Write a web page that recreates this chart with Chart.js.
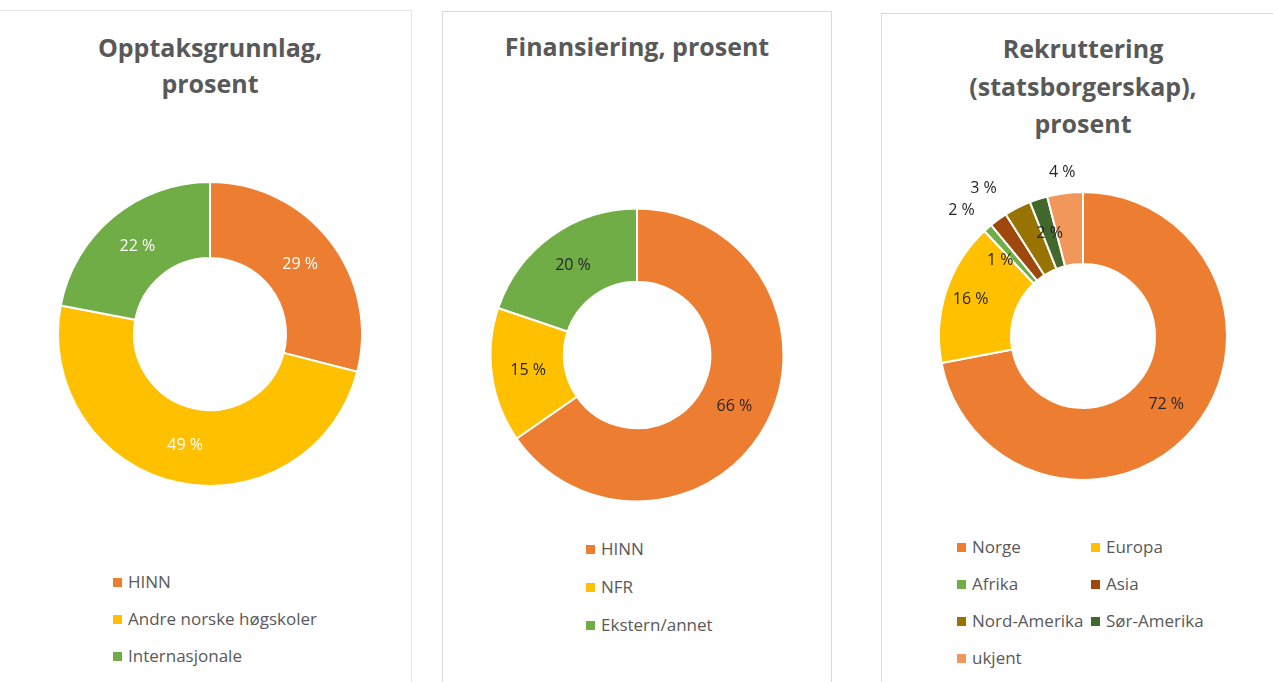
<!DOCTYPE html>
<html lang="no">
<head>
<meta charset="utf-8">
<title>Opptak, finansiering og rekruttering</title>
<script src="https://cdn.jsdelivr.net/npm/chart.js@4/dist/chart.umd.min.js"></script>
<style>
  body { margin: 0; width: 1273px; height: 682px; background: #fff; position: relative; overflow: hidden; font-family: "Open Sans", sans-serif; }
  .ramme { position: absolute; border: 1px solid #d9d9d9; }
  .tittel { position: absolute; text-align: center; font-weight: bold; font-size: 25px; line-height: 36px; color: #595959; }
  canvas { position: absolute; }
  .legende { position: absolute; font-size: 17px; color: #595959; }
  .legende .rad { position: absolute; white-space: nowrap; line-height: 20px; }
  .legende .rute { display: inline-block; width: 9px; height: 9px; margin-right: 6px; vertical-align: 1px; }
</style>
</head>
<body>

<div class="ramme" style="left:-2px; top:10px; width:412px; height:700px; border-color:#e6e6e6"></div>
<div class="ramme" style="left:442px; top:11px; width:388px; height:700px"></div>
<div class="ramme" style="left:881px; top:13px; width:420px; height:700px"></div>

<div class="tittel" style="left:10px; width:400px; top:29px">Opptaksgrunnlag,<br>prosent</div>
<div class="tittel" style="left:443px; width:388px; top:28px">Finansiering, prosent</div>
<div class="tittel" style="left:883px; width:400px; top:30px; line-height:37.5px">Rekruttering<br>(statsborgerskap),<br>prosent</div>

<canvas id="opptak" width="360" height="360" style="left:30px; top:154px"></canvas>
<canvas id="finans" width="340" height="340" style="left:467px; top:185px"></canvas>
<canvas id="rekrutt" width="380" height="380" style="left:893px; top:146px"></canvas>

<div class="legende" id="legOpptak" style="left:113px; top:572px"></div>
<div class="legende" id="legFinans" style="left:586px; top:539px"></div>
<div class="legende" id="legRekrutt" style="left:957px; top:537px"></div>

<script>
const opptakKategorier = ['HINN', 'Andre norske høgskoler', 'Internasjonale']
const opptakVerdier = [29, 49, 22]

const finansKategorier = ['HINN', 'NFR', 'Ekstern/annet']
const finansVerdier = [66, 15, 20]

const rekruttKategorier = ['Norge', 'Europa', 'Afrika', 'Asia', 'Nord-Amerika', 'Sør-Amerika', 'ukjent']
const rekruttVerdier = [72, 16, 1, 2, 3, 2, 4]

const farger = ['#ED7D31', '#FFC000', '#70AD47', '#9E480E', '#997300', '#43682B', '#F1975A']

// prosentetiketter tegnet ut fra buenes egen geometri
const etiketter = {
  id: 'etiketter',
  afterDatasetsDraw(chart, args, opts) {
    const ctx = chart.ctx
    const meta = chart.getDatasetMeta(0)
    const verdier = chart.data.datasets[0].data
    ctx.save()
    ctx.font = '16px "Open Sans"'
    ctx.fillStyle = opts.farge
    ctx.textAlign = 'center'
    ctx.textBaseline = 'middle'
    meta.data.forEach((bue, i) => {
      const p = bue.getProps(['x', 'y', 'startAngle', 'endAngle', 'innerRadius', 'outerRadius'], true)
      const plass = (opts.plassering && opts.plassering[i]) || {}
      const vinkel = (p.startAngle + p.endAngle) / 2 + (plass.dv || 0) * Math.PI / 180
      const r = plass.r ? p.outerRadius * plass.r : (p.innerRadius + p.outerRadius) / 2
      ctx.fillText(verdier[i] + ' %', p.x + Math.cos(vinkel) * r, p.y + Math.sin(vinkel) * r)
    })
    ctx.restore()
  }
}

function lagDonut(id, kategorier, verdier, padding, etikettOpts) {
  return new Chart(document.getElementById(id), {
    type: 'doughnut',
    data: {
      labels: kategorier,
      datasets: [{
        data: verdier,
        backgroundColor: farger.slice(0, verdier.length),
        borderColor: '#ffffff',
        borderWidth: 2
      }]
    },
    options: {
      responsive: false,
      animation: false,
      cutout: '50%',
      layout: { padding: padding },
      plugins: {
        legend: { display: false },
        tooltip: { enabled: false },
        etiketter: etikettOpts
      }
    },
    plugins: [etiketter]
  })
}

function lagLegende(chart, elId, kolonner, radAvstand, kolBredde) {
  const el = document.getElementById(elId)
  const elementer = Chart.overrides.doughnut.plugins.legend.labels.generateLabels(chart)
  elementer.forEach((e, i) => {
    const rad = document.createElement('div')
    rad.className = 'rad'
    rad.style.top = Math.floor(i / kolonner) * radAvstand + 'px'
    rad.style.left = (i % kolonner) * kolBredde + 'px'
    rad.innerHTML = '<span class="rute" style="background:' + e.fillStyle + '"></span>' + e.text
    el.appendChild(rad)
  })
}

const grafOpptak = lagDonut('opptak', opptakKategorier, opptakVerdier, 27, { farge: '#ffffff' })
const grafFinans = lagDonut('finans', finansKategorier, finansVerdier, 22.5, { farge: '#262626' })
const grafRekrutt = lagDonut('rekrutt', rekruttKategorier, rekruttVerdier, 45, {
  farge: '#262626',
  plassering: [null, { r: 0.82 }, { r: 0.78, dv: -6 }, { r: 1.215, dv: -8 }, { r: 1.236, dv: -7 }, null, { r: 1.146 }]
})

lagLegende(grafOpptak, 'legOpptak', 1, 37, 0)
lagLegende(grafFinans, 'legFinans', 1, 38, 0)
lagLegende(grafRekrutt, 'legRekrutt', 2, 37, 134)
</script>
</body>
</html>
